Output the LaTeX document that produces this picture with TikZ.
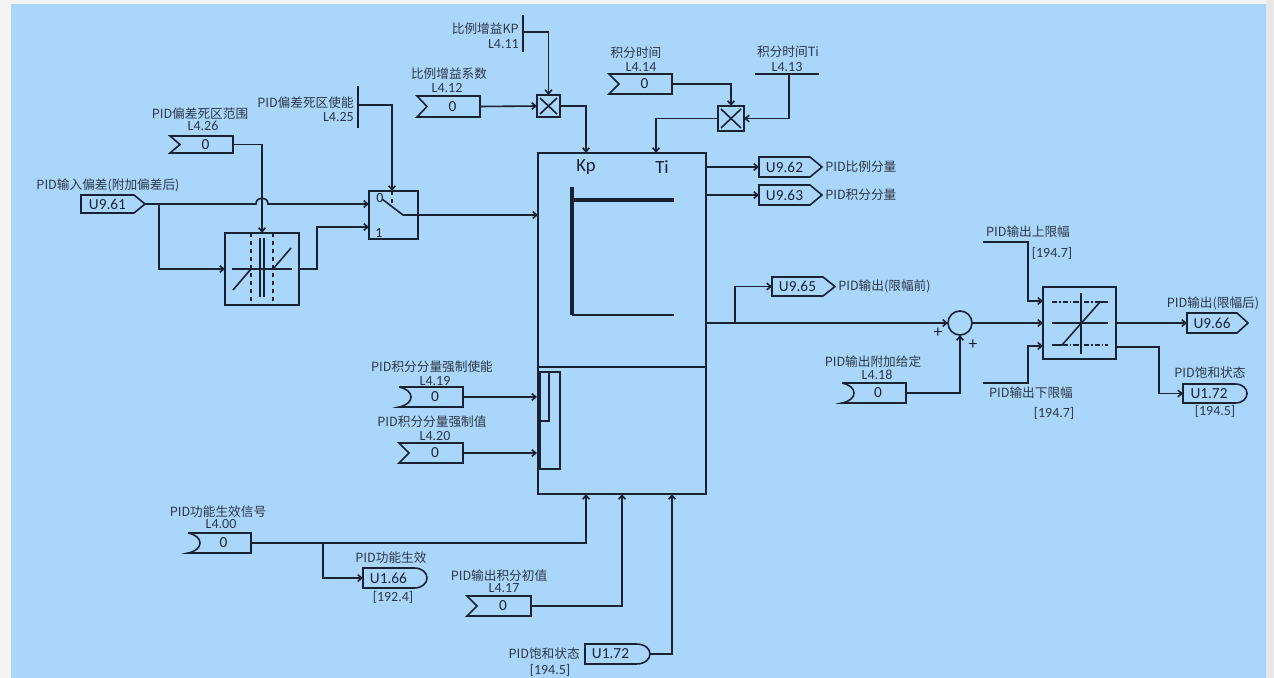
\documentclass[tikz,border=0pt]{standalone}
\usepackage{fontspec}
\setmainfont{Carlito}
\newfontfamily\cjk{Noto Sans CJK SC}
\usetikzlibrary{arrows.meta,calc}
\definecolor{bgblue}{RGB}{170,214,252}
\definecolor{framec}{RGB}{244,244,244}
\definecolor{framer}{RGB}{232,232,232}
\definecolor{lnc}{RGB}{24,34,48}
\definecolor{labc}{RGB}{45,55,68}
\definecolor{valc}{RGB}{24,34,48}
% input box with chevron on the left
\newcommand\InChev[6]{%
 \draw[ln] (#2,#3) -- (#4,#3) -- (#4,#5) -- (#2,#5) -- ({#2+10},{(#3+#5)/2}) -- cycle;
 \node[val] (#1) at ({(#2+#4)/2+4},{(#3+#5)/2}) {#6};
 \coordinate (#1-o) at (#4,{(#3+#5)/2});}
% input box with a round bracket on the left
\newcommand\InParen[6]{%
 \draw[ln] (#2,#3) -- (#4,#3) -- (#4,#5) -- (#2,#5) .. controls ({#2+16},{#5-3}) and ({#2+16},{#3+3}) .. (#2,#3);
 \node[val] (#1) at ({(#2+#4)/2+4},{(#3+#5)/2}) {#6};
 \coordinate (#1-o) at (#4,{(#3+#5)/2});}
% output box with pointed right end
\newcommand\OutPent[7]{%
 \draw[ln] (#2,#3) -- (#4,#3) -- (#6,{(#3+#5)/2}) -- (#4,#5) -- (#2,#5) -- cycle;
 \node[val] (#1) at ({(#2+#4)/2},{(#3+#5)/2}) {#7};
 \coordinate (#1-i) at (#2,{(#3+#5)/2});
 \coordinate (#1-t) at (#6,{(#3+#5)/2});}
% output box with rounded right end
\newcommand\OutRound[7]{%
 \draw[ln] (#4,#3) -- (#2,#3) -- (#2,#5) -- (#4,#5) .. controls ({#4+(#6-#4)*4/3},#5) and ({#4+(#6-#4)*4/3},#3) .. (#4,#3);
 \node[val] (#1) at ({(#2+#4)/2},{(#3+#5)/2}) {#7};
 \coordinate (#1-i) at (#2,{(#3+#5)/2});
 \coordinate (#1-t) at (#6,{(#3+#5)/2});}
% plain block
\newcommand\Blk[5]{%
 \node[blk,minimum width={(#4-#2)*0.75pt},minimum height={(#5-#3)*0.75pt}] (#1) at ({(#2+#4)/2},{(#3+#5)/2}) {};}
\begin{document}
\begin{tikzpicture}[x=0.75pt,y=-0.75pt,
 ln/.style={draw=lnc,line width=1.2pt},
 arr/.style={ln,-{Straight Barb[length=3pt,width=5pt]}},
 blk/.style={draw=lnc,line width=1.2pt,inner sep=0pt,outer sep=0pt,rectangle},
 lab/.style={font={\cjk\fontsize{9.5}{11}\selectfont},text=labc,inner sep=0pt},
 num/.style={font={\fontsize{10.5}{12}\selectfont},text=labc,inner sep=0pt},
 val/.style={font={\fontsize{11.5}{12}\selectfont},text=valc,inner sep=0pt},
 big/.style={font={\fontsize{14}{15}\selectfont},text=valc,inner sep=0pt},
 pls/.style={font={\fontsize{13}{14}\selectfont},text=valc,inner sep=0pt},
 dd/.style={ln,line width=0.9pt,dash pattern=on 4pt off 1.5pt on 1pt off 1.5pt},
]
\useasboundingbox (0,0) rectangle (1274,678);
\fill[framec] (0,0) rectangle (1274,678);
\fill[framer] (1266,0) rectangle (1274,678);
\fill[bgblue] (11,4) rectangle (1266,678);

% ---------- left: input deviation ----------
\node[lab] (t961) at (108,185) {PID输入偏差(附加偏差后)};
\OutPent{u961}{81}{195}{134}{213}{145}{U9.61}
\coordinate (j1) at (159,204);
\coordinate (hopA) at (256,204);
\coordinate (hopB) at (268,204);

% dead zone block
\Blk{dz}{225}{233}{299}{305}
\draw[ln,dashed,line width=0.9pt] (251,233) -- (251,305);
\draw[ln,dashed,line width=0.9pt] (273,233) -- (273,305);
\draw[ln] (260,238) -- (260,297);
\draw[ln] (264,238) -- (264,297);
\draw[ln] (232,269) -- (292,269);
\draw[ln] (233,290) -- (251,269);
\draw[ln] (273,269) -- (291,248);

\node[lab] (t426) at (200,114) {PID偏差死区范围};
\node[num] (n426) at (203,126) {L4.26};
\InChev{b426}{170}{136}{233}{153}{0}

% switch
\Blk{sw}{369}{191}{418}{239}
\node[num,text=valc] (sw0t) at (380,198) {0};
\node[num,text=valc] (sw1t) at (379,233) {1};
\draw[ln,dashed,line width=0.9pt] (392,191) -- (392,206);
\draw[ln] (382,199) -- (403,215) -- (418,215);
\coordinate (sw0) at (369,204);
\coordinate (sw1) at (369,227);
\coordinate (swo) at (418,215);
\coordinate (sws) at (392,191);

% L4.25 enable
\draw[ln] (358,86) -- (358,128);
\node[lab,anchor=east] (t425) at (354,103) {PID偏差死区使能};
\node[num,anchor=east] (n425) at (354,117) {L4.25};
\coordinate (p425) at (358,105);

% connectors left
\draw[ln] (u961-t) -- (j1);
\draw[arr] (j1) -- (hopA) .. controls (256,196) and (268,196) .. (hopB) -- (sw0);
\draw[arr] (j1) |- (dz.west);
\draw[arr] (b426-o) -| (dz.north);
\coordinate (k1) at (317,269);
\draw[arr] (dz.east) -- (k1) |- (sw1);
\draw[arr] (p425) -| (sws);

% ---------- PID block ----------
\Blk{pid}{538}{153}{706}{494}
\draw[ln] (538,367) -- (706,367);
\node[big] (kp) at (586,167) {Kp};
\node[big] (ti) at (662,167) {Ti};
\draw[lnc,line width=2.8pt] (572,187) -- (572,315);
\draw[lnc,line width=2.6pt] (573,200) -- (674,200);
\draw[ln] (572,315) -- (674,315);
\coordinate (pidin) at (538,215);
\draw[arr] (swo) -- (pidin);

% Kp multiplier
\Blk{m1}{537}{95}{560}{117}
\draw[ln] ($(m1.north west)+(3,3)$) -- ($(m1.south east)+(-3,-3)$);
\draw[ln] ($(m1.north east)+(-3,3)$) -- ($(m1.south west)+(3,-3)$);
\draw[ln] (523,15) -- (523,52);
\node[lab,anchor=east] (t411) at (519,29) {比例增益KP};
\node[num,anchor=east] (n411) at (519,44) {L4.11};
\coordinate (p411) at (523,32);
\node[lab] (t412) at (449,74) {比例增益系数};
\node[num] (n412) at (447,88) {L4.12};
\InChev{b412}{417}{96}{480}{117}{0}
\coordinate (kpin) at (586,153);
\draw[arr] (p411) -| (m1.north);
\draw[arr] (b412-o) -- (m1.west);
\draw[arr] (m1.east) -| (kpin);

% Ti multiplier
\Blk{m2}{718}{106}{744}{131}
\draw[ln] ($(m2.north west)+(3,3)$) -- ($(m2.south east)+(-3,-3)$);
\draw[ln] ($(m2.north east)+(-3,3)$) -- ($(m2.south west)+(3,-3)$);
\node[lab] (t414) at (636,53) {积分时间};
\node[num] (n414) at (641,67) {L4.14};
\InChev{b414}{609}{74}{672}{94}{0}
\node[lab] (t413) at (788,52) {积分时间Ti};
\node[num] (n413) at (787,67) {L4.13};
\draw[ln] (755,74) -- (819,74);
\coordinate (p413) at (789,74);
\coordinate (tiin) at (656,153);
\draw[arr] (b414-o) -| (m2.north);
\draw[arr] (p413) |- (m2.east);
\draw[arr] (m2.west) -| (tiin);

% outputs of PID
\OutPent{u962}{759}{157}{810}{177}{822}{U9.62}
\node[lab,anchor=west] (t962) at (825,167) {PID比例分量};
\OutPent{u963}{759}{185}{810}{205}{822}{U9.63}
\node[lab,anchor=west] (t963) at (825,195) {PID积分分量};
\coordinate (pido1) at (706,167);
\coordinate (pido2) at (706,195);
\draw[arr] (pido1) -- (u962-i);
\draw[arr] (pido2) -- (u963-i);

\OutPent{u965}{772}{277}{823}{296}{835}{U9.65}
\node[lab,anchor=west] (t965) at (838,286) {PID输出(限幅前)};
\coordinate (pido) at (706,323);
\coordinate (br1) at (735,323);

% summing junction
\node[draw=lnc,line width=1.2pt,circle,minimum size=18pt,inner sep=0pt,outer sep=0pt] (sum) at (960,323) {};
\node[pls] (pl1) at (938,333) {+};
\node[pls] (pl2) at (973,345) {+};
\draw[ln] (pido) -- (br1);
\draw[arr] (br1) -- (sum.west);
\draw[arr] (br1) |- (u965-i);

\node[lab] (t418) at (873,362) {PID输出附加给定};
\node[num] (n418) at (877,375) {L4.18};
\InParen{b418}{842}{383}{906}{403}{0}
\draw[arr] (b418-o) -| (sum.south);

% limiter
\Blk{lm}{1043}{287}{1116}{359}
\draw[dd] (1052,302) -- (1108,302);
\draw[dd] (1052,345) -- (1108,345);
\draw[ln] (1052,323) -- (1108,323);
\draw[ln] (1081,293) -- (1081,354);
\draw[ln] (1052,345) -- (1062,345) -- (1100,302) -- (1108,302);
\draw[arr] (sum.east) -- (sum.east -| lm.west);

\node[lab] (tul) at (1028,232) {PID输出上限幅};
\node[num] (nul) at (1052,253) {[194.7]};
\coordinate (ul0) at (983,242);
\coordinate (ul1) at (1028,242);
\coordinate (lmu) at (1043,301);
\draw[arr] (ul0) -- (ul1) |- (lmu);

\node[lab] (tll) at (1031,393) {PID输出下限幅};
\node[num] (nll) at (1054,413) {[194.7]};
\coordinate (ll0) at (983,383);
\coordinate (ll1) at (1028,383);
\coordinate (lml) at (1043,346);
\draw[arr] (ll0) -- (ll1) |- (lml);

\OutPent{u966}{1187}{313}{1237}{333}{1248}{U9.66}
\node[lab] (t966) at (1213,303) {PID输出(限幅后)};
\draw[arr] (lm.east) -- (u966-i);

\OutRound{u172a}{1183}{384}{1235}{403}{1247}{U1.72}
\node[lab] (t172a) at (1210,373) {PID饱和状态};
\node[num] (n172a) at (1215,411) {[194.5]};
\coordinate (lmo2) at (1116,347);
\coordinate (k2) at (1159,347);
\draw[arr] (lmo2) -- (k2) |- (u172a-i);

% ---------- integral force inputs ----------
\draw[ln] (538,372) rectangle (560,469);
\draw[ln] (538,372) rectangle (549,421);
\draw[lnc,line width=2.4pt] (539,372) -- (539,469);
\node[lab] (t419) at (432,367) {PID积分分量强制使能};
\node[num] (n419) at (435,381) {L4.19};
\InParen{b419}{399}{387}{463}{407}{0}
\coordinate (ir1) at (537,397);
\draw[arr] (b419-o) -- (ir1);
\node[lab] (t420) at (432,422) {PID积分分量强制值};
\node[num] (n420) at (435,436) {L4.20};
\InChev{b420}{399}{443}{463}{463}{0}
\coordinate (ir2) at (537,453);
\draw[arr] (b420-o) -- (ir2);

% ---------- bottom inputs ----------
\node[lab] (t400) at (218,512) {PID功能生效信号};
\node[num] (n400) at (221,524) {L4.00};
\InParen{b400}{188}{533}{251}{553}{0}
\coordinate (br2) at (323,543);
\coordinate (pidb1) at (586,494);
\draw[ln] (b400-o) -- (br2);
\draw[arr] (br2) -| (pidb1);
\OutRound{u166}{363}{568}{414}{588}{427}{U1.66}
\node[lab] (t166) at (391,558) {PID功能生效};
\node[num] (n166) at (393,597) {[192.4]};
\draw[arr] (br2) |- (u166-i);

\node[lab] (t417) at (499,576) {PID输出积分初值};
\node[num] (n417) at (504,588) {L4.17};
\InChev{b417}{467}{596}{531}{616}{0}
\coordinate (pidb2) at (622,494);
\draw[arr] (b417-o) -| (pidb2);

\OutRound{u172b}{585}{644}{636}{664}{650}{U1.72}
\node[lab,anchor=east] (t172b) at (580,654) {PID饱和状态};
\node[num] (n172b) at (550,670) {[194.5]};
\coordinate (pidb3) at (672,494);
\draw[arr] (u172b-t) -| (pidb3);
\end{tikzpicture}
\end{document}
